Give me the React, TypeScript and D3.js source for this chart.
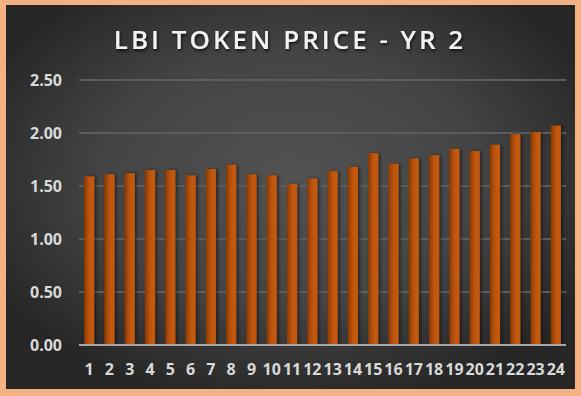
import React from "react";
import * as d3 from "d3";

const categories: string[] = Array.from({ length: 24 }, (_, i) => String(i + 1));
const prices: number[] = [
  1.59, 1.61, 1.62, 1.65, 1.65, 1.6, 1.66, 1.7, 1.61, 1.6, 1.52, 1.57,
  1.64, 1.68, 1.81, 1.71, 1.76, 1.79, 1.85, 1.83, 1.89, 1.99, 2.01, 2.07,
];
const yTicks: number[] = [0, 0.5, 1.0, 1.5, 2.0, 2.5];
const title = "LBI TOKEN PRICE - YR 2";

const W = 581;
const H = 396;
const plot = { left: 79, right: 566, top: 80, bottom: 345 };

export default function App() {
  const x = d3
    .scaleBand<string>()
    .domain(categories)
    .range([plot.left, plot.right])
    .paddingInner(0.5)
    .paddingOuter(0.25);
  const y = d3.scaleLinear().domain([0, 2.5]).range([plot.bottom, plot.top]);
  const fmt = d3.format(".2f");
  const font = "'Open Sans', 'DejaVu Sans', sans-serif";

  return (
    <svg
      width={W}
      height={H}
      style={{ position: "absolute", left: 0, top: 0, display: "block" }}
    >
      <defs>
        <radialGradient id="bg" cx="0.5" cy="0.45" r="0.6">
          <stop offset="0" stopColor="#525252" />
          <stop offset="0.55" stopColor="#444444" />
          <stop offset="1" stopColor="#262626" />
        </radialGradient>
        <linearGradient id="bar" x1="0" x2="1" y1="0" y2="0">
          <stop offset="0" stopColor="#8a3900" />
          <stop offset="0.45" stopColor="#b85210" />
          <stop offset="0.75" stopColor="#c55a11" />
          <stop offset="1" stopColor="#c05610" />
        </linearGradient>
        <filter id="tshadow" x="-10%" y="-30%" width="120%" height="160%">
          <feDropShadow dx="1" dy="2" stdDeviation="1.5" floodColor="#000" floodOpacity="0.7" />
        </filter>
        <filter id="bshadow" x="-50%" y="-10%" width="200%" height="120%">
          <feDropShadow dx="2" dy="0" stdDeviation="1.5" floodColor="#000" floodOpacity="0.45" />
        </filter>
      </defs>
      <rect x={0} y={0} width={W} height={H} fill="#f4b183" />
      <rect x={6} y={5} width={569} height={384} fill="url(#bg)" />
      <text
        x={290}
        y={49}
        textAnchor="middle"
        fill="#f2f2f2"
        fontFamily={font}
        fontWeight={600}
        fontSize={26}
        letterSpacing={3}
        filter="url(#tshadow)"
      >
        {title}
      </text>
      {yTicks.map((t) => (
        <g key={t}>
          {t > 0 && (
            <line
              x1={plot.left}
              x2={plot.right}
              y1={y(t)}
              y2={y(t)}
              stroke="#5c5c5c"
              strokeWidth={2}
            />
          )}
          <text
            x={62}
            y={y(t) + 6}
            textAnchor="end"
            fill="#d9d9d9"
            fontFamily={font}
            fontWeight={700}
            fontSize={16}
          >
            {fmt(t)}
          </text>
        </g>
      ))}
      {prices.map((v, i) => (
        <rect
          key={i}
          x={x(categories[i])!}
          y={y(v)}
          width={x.bandwidth()}
          height={y(0) - y(v)}
          fill="url(#bar)"
          filter="url(#bshadow)"
        />
      ))}
      <line
        x1={plot.left}
        x2={plot.right}
        y1={y(0)}
        y2={y(0)}
        stroke="#a6a6a6"
        strokeWidth={2}
      />
      {categories.map((c) => (
        <text
          key={c}
          x={x(c)! + x.bandwidth() / 2}
          y={375}
          textAnchor="middle"
          fill="#d9d9d9"
          fontFamily={font}
          fontWeight={700}
          fontSize={16}
        >
          {c}
        </text>
      ))}
    </svg>
  );
}
